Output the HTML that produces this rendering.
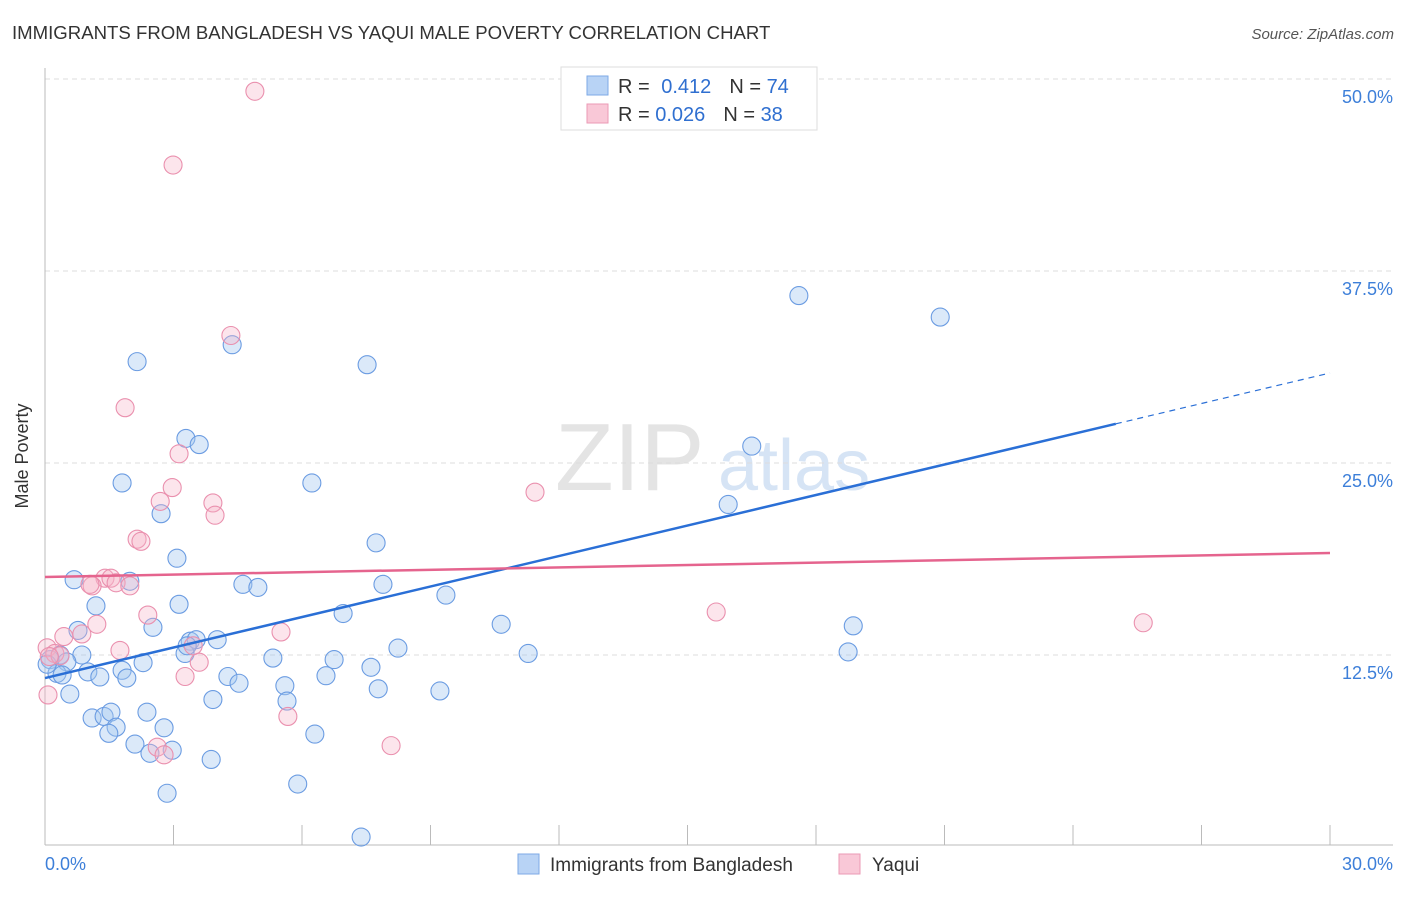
<!DOCTYPE html>
<html><head><meta charset="utf-8"><style>
body{margin:0;background:#fff;font-family:"Liberation Sans",sans-serif;}
svg text{font-family:"Liberation Sans",sans-serif;}
</style></head><body>
<svg width="1406" height="892" xmlns="http://www.w3.org/2000/svg">
<text x="12" y="39" font-size="18.6" fill="#333">IMMIGRANTS FROM BANGLADESH VS YAQUI MALE POVERTY CORRELATION CHART</text>
<text x="1394" y="39" font-size="15" fill="#555" text-anchor="end" font-style="italic">Source: ZipAtlas.com</text>
<g>
<text x="555" y="490" font-size="96" fill="#e4e4e4" font-family="Liberation Serif">ZIP</text>
<text x="718" y="490" font-size="72" fill="#d6e4f5">atlas</text>
</g>
<g id="grid"></g>
<g id="axes"></g>
<g id="points"></g>
<g id="lines"></g>
<text x="28" y="456" font-size="18" fill="#333" text-anchor="middle" transform="rotate(-90 28 456)">Male Poverty</text>
<g>
<rect x="561" y="67" width="256" height="63" fill="#fff" stroke="#ddd"/>
<rect x="587" y="76" width="21" height="19" fill="#b8d3f5" stroke="#7ea9e6"/>
<rect x="587" y="104" width="21" height="19" fill="#f9c8d7" stroke="#eb9ab5"/>
<text x="618" y="93" font-size="20" fill="#333">R = <tspan fill="#2f6fd0" dx="6">0.412</tspan><tspan dx="18">N = </tspan><tspan fill="#2f6fd0">74</tspan></text>
<text x="618" y="121" font-size="20" fill="#333">R = <tspan fill="#2f6fd0">0.026</tspan><tspan dx="18">N = </tspan><tspan fill="#2f6fd0">38</tspan></text>
</g>
<g>
<rect x="518" y="854" width="21" height="20" fill="#b8d3f5" stroke="#7ea9e6"/>
<text x="550" y="871" font-size="19" fill="#333">Immigrants from Bangladesh</text>
<rect x="839" y="854" width="21" height="20" fill="#f9c8d7" stroke="#eb9ab5"/>
<text x="872" y="871" font-size="19" fill="#333">Yaqui</text>
</g>
</svg>
<script>
const yTicks=[12.5,25,37.5,50];
const yTickLabels=["12.5%","25.0%","37.5%","50.0%"];
const xTicks=[3,6,9,12,15,18,21,24,27,30];
const blueX=[2.15,4.37,7.52,17.6,20.9,3.29,3.6,16.5,1.8,6.23,2.71,15.95,7.73,3.08,0.68,1.98,4.62,4.97,7.89,9.36,1.19,3.13,6.96,2.52,10.65,18.87,0.77,3.39,3.53,4.02,3.27,8.24,11.28,18.75,0.35,0.12,0.86,0.51,5.32,6.75,0.28,0.4,1.0,1.28,1.8,2.29,1.91,4.27,4.53,6.56,7.61,5.6,7.78,9.22,0.58,3.92,5.65,1.1,1.38,1.54,2.38,1.66,1.49,2.78,2.1,2.45,2.97,3.88,6.3,5.9,2.85,7.38,3.32,0.05];
const blueY=[31.6,32.7,31.4,35.9,34.5,26.6,26.2,26.1,23.7,23.7,21.7,22.3,19.8,18.8,17.4,17.3,17.1,16.9,17.1,16.4,15.7,15.8,15.2,14.3,14.5,14.4,14.1,13.4,13.5,13.5,12.6,12.95,12.6,12.7,12.5,12.2,12.5,12.05,12.3,12.2,11.3,11.2,11.4,11.07,11.5,12.0,11.0,11.1,10.66,11.15,11.7,10.5,10.3,10.16,9.96,9.6,9.5,8.4,8.5,8.78,8.78,7.8,7.4,7.76,6.7,6.1,6.3,5.7,7.35,4.1,3.5,0.65,13.1,11.9];
const pinkX=[4.9,2.99,4.34,1.87,3.13,2.97,2.69,3.92,3.97,11.44,2.15,2.24,1.4,1.54,1.1,1.05,1.66,1.98,2.4,15.67,25.64,0.44,0.86,1.21,5.51,1.75,3.46,0.05,0.23,0.35,3.6,3.27,0.07,5.67,8.08,2.62,2.78,0.1];
const pinkY=[49.2,44.4,33.3,28.6,25.6,23.4,22.5,22.4,21.6,23.1,20.04,19.9,17.5,17.5,17.0,17.1,17.2,17.0,15.1,15.3,14.6,13.7,13.87,14.5,14.0,12.8,13.1,12.97,12.6,12.45,12.03,11.1,9.9,8.5,6.6,6.5,6.0,12.4];
const blueLine=[11.0,30.86];
const pinkLine=[17.58,19.14];
const NS="http://www.w3.org/2000/svg";
const X=v=>45+v/30*1285;
const Y=v=>847-v*15.36;
function mk(tag,attrs,parent){const e=document.createElementNS(NS,tag);for(const k in attrs)e.setAttribute(k,attrs[k]);document.getElementById(parent).appendChild(e);return e;}
yTicks.forEach((t,i)=>{
 const g=mk('line',{x1:45,x2:1393,y1:Y(t),y2:Y(t),stroke:'#ddd','stroke-dasharray':'5,4'},'grid');
 
 
 const tx=mk('text',{x:1393,y:Y(t)+24,'font-size':18,fill:'#3d7fd9','text-anchor':'end'},'grid');
 tx.textContent=yTickLabels[i];
 
 
});
let a=mk('line',{x1:45,x2:45,y1:68,y2:845,stroke:'#bbb'},'axes');


a=mk('line',{x1:45,x2:1393,y1:845,y2:845,stroke:'#bbb'},'axes');


xTicks.forEach(t=>{const l=mk('line',{x1:X(t),x2:X(t),y1:825,y2:845,stroke:'#bbb'},'axes');
 
 });
let t0=mk('text',{x:45,y:870,'font-size':18,fill:'#3d7fd9'},'axes');t0.textContent='0.0%';


let t1=mk('text',{x:1393,y:870,'font-size':18,fill:'#3d7fd9','text-anchor':'end'},'axes');t1.textContent='30.0%';


blueX.forEach((x,i)=>{const c=mk('circle',{cx:X(x),cy:Y(blueY[i]),r:9,fill:'rgba(165,199,240,0.4)',stroke:'#6b9ce2','stroke-width':1.1},'points');
 
 });
pinkX.forEach((x,i)=>{const c=mk('circle',{cx:X(x),cy:Y(pinkY[i]),r:9,fill:'rgba(245,180,200,0.35)',stroke:'#ea90ae','stroke-width':1.1},'points');
 
 });
const bAt=x=>blueLine[0]+(blueLine[1]-blueLine[0])*x/30;
let l=mk('line',{x1:X(0),y1:Y(bAt(0)),x2:X(25),y2:Y(bAt(25)),stroke:'#2a6fd6','stroke-width':2.5},'lines');


l=mk('line',{x1:X(25),y1:Y(bAt(25)),x2:X(30),y2:Y(bAt(30)),stroke:'#2a6fd6','stroke-width':1.2,'stroke-dasharray':'6,5'},'lines');


l=mk('line',{x1:X(0),y1:Y(pinkLine[0]),x2:X(30),y2:Y(pinkLine[1]),stroke:'#e5648e','stroke-width':2.5},'lines');


</script>
</body></html>
